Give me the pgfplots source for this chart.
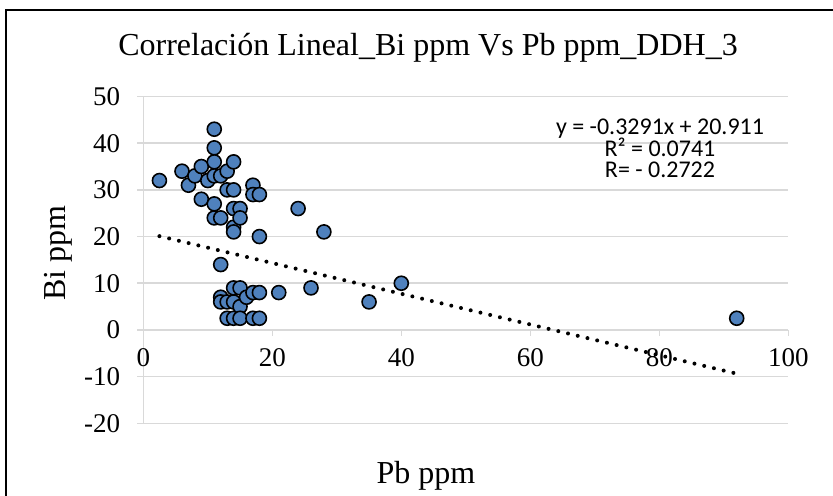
\documentclass[border=0pt]{standalone}
\usepackage{fontspec}
\setmainfont{Liberation Serif}
\newfontfamily\calibri{Carlito}
\usepackage{pgfplots}
\pgfplotsset{compat=1.18}
\definecolor{excelblue}{RGB}{79,129,189}
\definecolor{gridgray}{RGB}{217,217,217}
\begin{document}
\begin{tikzpicture}
\useasboundingbox (0,0) rectangle (416.5pt,248pt);
\begin{axis}[
  at={(71.65pt,36.35pt)}, anchor=south west,
  scale only axis, width=322.5pt, height=163.4pt,
  xmin=0, xmax=100, ymin=-20, ymax=50,
  enlargelimits=false,
  axis lines=middle,
  axis line style={gridgray, line width=0.75pt, -},
  hide obscured x ticks=false, hide obscured y ticks=false,
  xtick={0,20,...,100},
  ytick={-20,-10,...,50},
  yticklabels={-20,-10,0,10,20,30,40,50},
  tick align=outside, major tick length=3pt,
  tick style={gridgray, line width=0.75pt},
  ymajorgrids, grid style={gridgray, line width=0.75pt},
  ticklabel style={font=\fontsize{13.5}{13.5}\selectfont},
  /pgf/number format/assume math mode=true,
  xticklabel style={yshift=-3pt},
  yticklabel style={xshift=-5pt},
  clip=false,
]
% muestras
\addplot[only marks, mark=*, mark size=3.5pt,
  mark options={fill=excelblue, draw=black, line width=0.8pt}] coordinates {
  (2.5,32) (6,34) (7,31) (8,33) (9,35) (9,28) (10,32)
  (11,43) (11,39) (11,36) (11,33) (11,27) (11,24)
  (12,33) (12,24) (12,14) (12,7) (12,6)
  (13,34) (13,30) (13,6) (13,2.5)
  (14,36) (14,30) (14,26) (14,22) (14,21) (14,9) (14,6) (14,2.5)
  (15,26) (15,24) (15,9) (15,5) (15,2.5)
  (16,7) (17,31) (17,29) (17,8) (17,2.5)
  (18,29) (18,20) (18,8) (18,2.5)
  (21,8) (24,26) (26,9) (28,21) (35,6) (40,10) (92,2.5)
};
% linea de tendencia
\addplot[black, line width=2pt, line cap=round, dash pattern=on 0pt off 5pt]
  coordinates {(2.5,20.088) (92,-9.366)};
\end{axis}
\node[font=\fontsize{16}{16}\selectfont, anchor=base] at (214pt,220pt)
  {Correlación Lineal\_Bi ppm Vs Pb ppm\_DDH\_3};
\node[font=\fontsize{16}{16}\selectfont, anchor=base] at (213pt,6pt) {Pb ppm};
\node[font=\fontsize{16}{16}\selectfont, rotate=90, anchor=base] at (32.5pt,121.5pt) {Bi ppm};
\node[font=\calibri\fontsize{12}{12}\selectfont, anchor=base] at (330pt,180.5pt) {y = -0.3291x + 20.911};
\node[font=\calibri\fontsize{12}{12}\selectfont, anchor=base] at (330pt,169.5pt) {R² = 0.0741};
\node[font=\calibri\fontsize{12}{12}\selectfont, anchor=base] at (330pt,159pt) {R= - 0.2722};
\draw[line width=1pt] (3pt,-10pt) -- (3pt,243pt) -- (430pt,243pt);
\end{tikzpicture}
\end{document}
